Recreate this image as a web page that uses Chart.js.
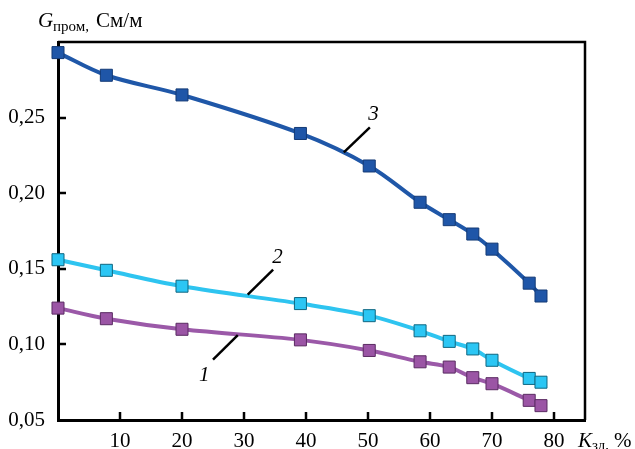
<!DOCTYPE html>
<html>
<head>
<meta charset="utf-8">
<script src="https://cdn.jsdelivr.net/npm/chart.js@4/dist/chart.umd.min.js"></script>
<style>
  html, body { margin: 0; padding: 0; background: #fff; }
  #wrap { width: 635px; height: 449px; }
</style>
</head>
<body>
<div id="wrap"><canvas id="myChart"></canvas></div>
<script>
// values
const kzd = [0, 7.8, 20, 39.1, 50.2, 58.4, 63.1, 66.9, 70, 76, 77.9];
const g1 = [0.124, 0.117, 0.110, 0.103, 0.096, 0.0885, 0.085, 0.078, 0.074, 0.063, 0.0595];
const g2 = [0.156, 0.149, 0.1385, 0.127, 0.119, 0.109, 0.102, 0.097, 0.0895, 0.0775, 0.075];
const g3 = [0.293, 0.278, 0.265, 0.2395, 0.218, 0.194, 0.1825, 0.173, 0.163, 0.1405, 0.132];

const xTicks = [10, 20, 30, 40, 50, 60, 70, 80];
const yTicks = [0.05, 0.10, 0.15, 0.20, 0.25];

// curve numbers with leader lines: [label, x1, y1, x2, y2, textX, textY]
const curveLabels = [
  ['1', 25.0, 0.090, 29.0, 0.1061, 23.6, 0.0797],
  ['2', 30.6, 0.1329, 34.7, 0.1494, 35.4, 0.1577],
  ['3', 46.1, 0.227, 50.3, 0.2435, 50.9, 0.2523]
];

const FONT = "'Liberation Serif', 'DejaVu Serif', serif";

function pts(ys) {
  return ys.map(function(y, i) { return { x: kzd[i], y: y }; });
}

function series(ys, line, fill, edge) {
  return {
    data: pts(ys),
    borderColor: line,
    borderWidth: 4,
    backgroundColor: fill,
    pointStyle: 'rect',
    pointRadius: 8.5,
    pointBackgroundColor: fill,
    pointBorderColor: edge,
    pointBorderWidth: 1,
    tension: 0.35,
    clip: false
  };
}

const extras = {
  id: 'extras',
  afterDraw: function(chart) {
    const c = chart.ctx;
    const a = chart.chartArea;
    const xs = chart.scales.x, ys = chart.scales.y;
    c.save();
    // frame top and right
    c.strokeStyle = '#000';
    c.lineWidth = 2.5;
    c.beginPath();
    c.moveTo(a.left, a.top);
    c.lineTo(a.right, a.top);
    c.lineTo(a.right, a.bottom);
    c.stroke();
    // inward ticks
    c.beginPath();
    xTicks.forEach(function(v) {
      const px = Math.round(xs.getPixelForValue(v));
      c.moveTo(px, a.bottom);
      c.lineTo(px, a.bottom - 8);
    });
    yTicks.slice(1).forEach(function(v) {
      const py = Math.round(ys.getPixelForValue(v));
      c.moveTo(a.left, py);
      c.lineTo(a.left + 8, py);
    });
    c.stroke();

    // curve labels
    c.fillStyle = '#000';
    c.textAlign = 'center';
    c.textBaseline = 'middle';
    c.font = 'italic 21px ' + FONT;
    curveLabels.forEach(function(l) {
      c.beginPath();
      c.moveTo(xs.getPixelForValue(l[1]), ys.getPixelForValue(l[2]));
      c.lineTo(xs.getPixelForValue(l[3]), ys.getPixelForValue(l[4]));
      c.stroke();
      c.fillText(l[0], xs.getPixelForValue(l[5]), ys.getPixelForValue(l[6]));
    });

    // axis titles
    c.textAlign = 'left';
    c.textBaseline = 'alphabetic';
    c.font = 'italic 21px ' + FONT;
    c.fillText('G', 38, 27);
    c.font = '15px ' + FONT;
    c.fillText('пром,', 53, 31);
    c.font = '21px ' + FONT;
    c.fillText('См/м', 96, 27);

    c.font = 'italic 21px ' + FONT;
    c.fillText('K', 578, 447);
    c.font = '15px ' + FONT;
    c.fillText('зд,', 592, 450);
    c.font = '21px ' + FONT;
    c.fillText('%', 614, 447);
    c.restore();
  }
};

new Chart(document.getElementById('myChart'), {
  type: 'line',
  data: {
    datasets: [
      series(g1, '#9b59a8', '#9b55a5', '#5a2b62'),
      series(g2, '#2ec4f0', '#2bc6f4', '#0f6680'),
      series(g3, '#1f57a8', '#1f56a8', '#143a75')
    ]
  },
  plugins: [extras],
  options: {
    responsive: true,
    maintainAspectRatio: false,
    animation: false,
    devicePixelRatio: 1,
    layout: { padding: { top: 42, right: 50, left: 0, bottom: 0 } },
    plugins: {
      legend: { display: false },
      tooltip: { enabled: false }
    },
    scales: {
      x: {
        type: 'linear',
        min: 0,
        max: 85,
        afterFit: function(s) { s.height = 29; },
        afterBuildTicks: function(s) {
          s.ticks = xTicks.map(function(v) { return { value: v }; });
        },
        grid: { display: false, drawTicks: false },
        border: { display: true, color: '#000', width: 3 },
        ticks: {
          padding: 9,
          color: '#000',
          font: { family: FONT, size: 21 },
          maxRotation: 0,
          callback: function(v) { return String(v); }
        }
      },
      y: {
        min: 0.05,
        max: 0.30,
        afterFit: function(s) { s.width = 58; },
        afterBuildTicks: function(s) {
          s.ticks = yTicks.map(function(v) { return { value: v }; });
        },
        grid: { display: false, drawTicks: false },
        border: { display: true, color: '#000', width: 3 },
        ticks: {
          padding: 13,
          color: '#000',
          font: { family: FONT, size: 21 },
          callback: function(v) { return v.toFixed(2).replace('.', ','); }
        }
      }
    }
  }
});
</script>
</body>
</html>
